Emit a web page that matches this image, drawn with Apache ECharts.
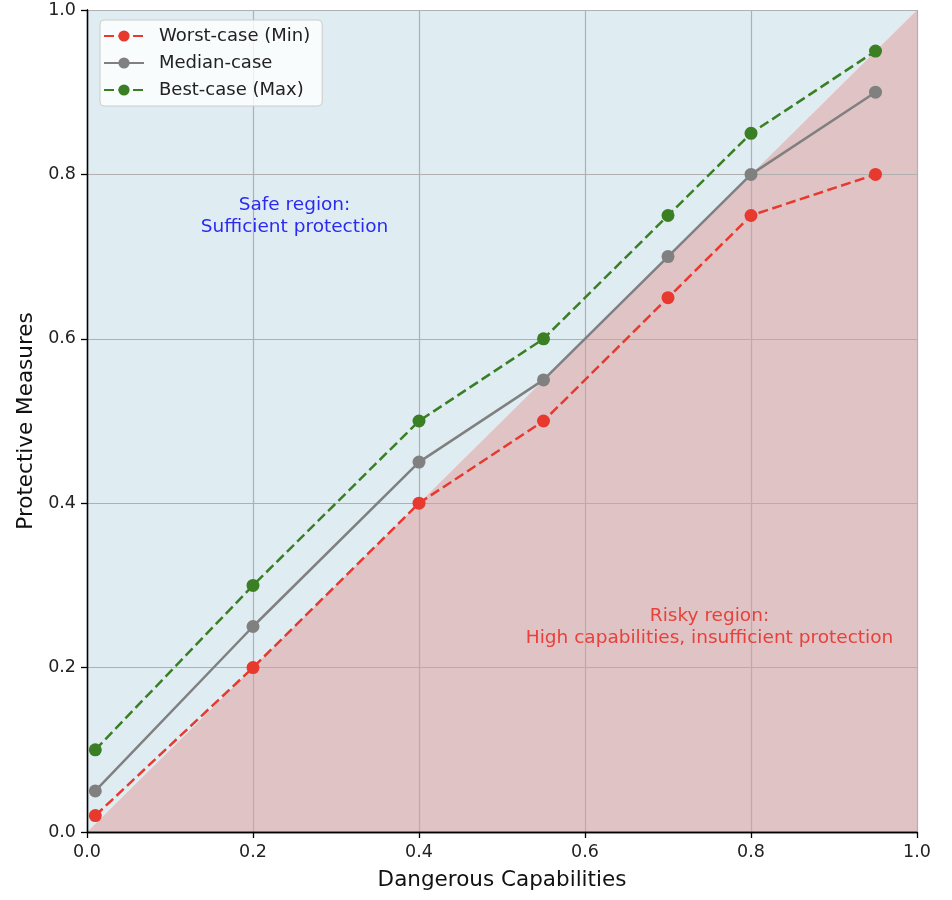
<!DOCTYPE html>
<html>
<head>
<meta charset="utf-8">
<script src="https://cdn.jsdelivr.net/npm/echarts@6/dist/echarts.min.js"></script>
<style>
  html, body { margin: 0; padding: 0; background: #fff; }
  #main { width: 952px; height: 900px; }
</style>
</head>
<body>
<div id="main"></div>
<script>
// data
const capabilities = [0.01, 0.2, 0.4, 0.55, 0.7, 0.8, 0.95];
const worstCase = [0.02, 0.2, 0.4, 0.5, 0.65, 0.75, 0.8];
const medianCase = [0.05, 0.25, 0.45, 0.55, 0.7, 0.8, 0.9];
const bestCase = [0.1, 0.3, 0.5, 0.6, 0.75, 0.85, 0.95];
const ticks = [0, 0.2, 0.4, 0.6, 0.8, 1.0];

// regions: polygons in data space, annotations
const safePoly = [[0, 0], [1, 1], [0, 1]];
const riskyPoly = [[0, 0], [1, 0], [1, 1]];
const notes = [
    { pos: [0.25, 0.75], text: 'Safe region:\nSufficient protection', color: '#2a2af2' },
    { pos: [0.75, 0.25], text: 'Risky region:\nHigh capabilities, insufficient protection', color: '#e8403a' }
];

const font = 'DejaVu Sans';
const pair = ys => capabilities.map((x, i) => [x, ys[i]]);

const chart = echarts.init(document.getElementById('main'));

function polySeries(name, pts, color) {
    return {
        name: name,
        type: 'custom',
        z: 1,
        silent: true,
        coordinateSystem: 'cartesian2d',
        data: [0],
        renderItem: function (params, api) {
            return {
                type: 'polygon',
                shape: { points: pts.map(p => api.coord(p)) },
                style: { fill: color }
            };
        }
    };
}

function lineSeries(name, ys, color, dashed) {
    return {
        name: name,
        type: 'line',
        z: 5,
        data: pair(ys),
        symbol: 'circle',
        symbolSize: 13,
        itemStyle: { color: color },
        lineStyle: { color: color, width: 2.5, type: dashed ? [10, 4.5] : 'solid' },
        emphasis: { disabled: true }
    };
}

const axisCommon = {
    type: 'value',
    min: 0,
    max: 1,
    interval: 0.2,
    z: 3,
    axisLine: { show: true, lineStyle: { color: '#000', width: 1.3 } },
    axisTick: { show: true, length: 6, lineStyle: { color: '#000', width: 1.3 } },
    splitLine: { show: true, lineStyle: { color: '#b0b0b0', width: 1.2 } },
    axisLabel: { color: '#222', fontFamily: font, fontSize: 17.5, margin: 11, formatter: v => v.toFixed(1) },
    nameLocation: 'middle',
    nameTextStyle: { color: '#111', fontFamily: font, fontSize: 21.5 }
};

const frameAxis = {
    type: 'value',
    min: 0,
    max: 1,
    z: 3,
    axisLine: { show: true, lineStyle: { color: '#000', width: 1.3 } },
    axisTick: { show: false },
    axisLabel: { show: false },
    splitLine: { show: false }
};

chart.setOption({
    backgroundColor: '#fff',
    animation: false,
    grid: { left: 87, right: 35, top: 10, bottom: 68 },
    legend: {
        orient: 'vertical',
        left: 100,
        top: 20,
        data: ['Worst-case (Min)', 'Median-case', 'Best-case (Max)'],
        itemWidth: 40,
        itemHeight: 14,
        itemGap: 9,
        padding: [7, 12, 7, 3],
        backgroundColor: 'rgba(255,255,255,0.8)',
        borderColor: '#cccccc',
        borderWidth: 1,
        borderRadius: 4,
        textStyle: { color: '#222', fontFamily: font, fontSize: 18, padding: [0, 0, 0, 10] }
    },
    xAxis: [
        Object.assign({}, axisCommon, { name: 'Dangerous Capabilities', nameGap: 37 }),
        Object.assign({}, frameAxis, { position: 'top' })
    ],
    yAxis: [
        Object.assign({}, axisCommon, { name: 'Protective Measures', nameGap: 46 }),
        Object.assign({}, frameAxis, { position: 'right' })
    ],
    series: [
        polySeries('safe', safePoly, '#dfedf3'),
        polySeries('risky', riskyPoly, '#e0c3c5'),
        {
            name: 'notes',
            type: 'custom',
            z: 4,
            silent: true,
            coordinateSystem: 'cartesian2d',
            data: notes.map(n => n.pos),
            renderItem: function (params, api) {
                const n = notes[params.dataIndex];
                const p = api.coord(n.pos);
                return {
                    type: 'text',
                    x: p[0],
                    y: p[1] + 1,
                    style: {
                        text: n.text,
                        fill: n.color,
                        font: '18.5px ' + font,
                        align: 'center',
                        verticalAlign: 'middle',
                        lineHeight: 22
                    }
                };
            }
        },
        lineSeries('Worst-case (Min)', worstCase, '#e8392f', true),
        lineSeries('Median-case', medianCase, '#808080', false),
        lineSeries('Best-case (Max)', bestCase, '#3a7f24', true)
    ]
});
</script>
</body>
</html>
